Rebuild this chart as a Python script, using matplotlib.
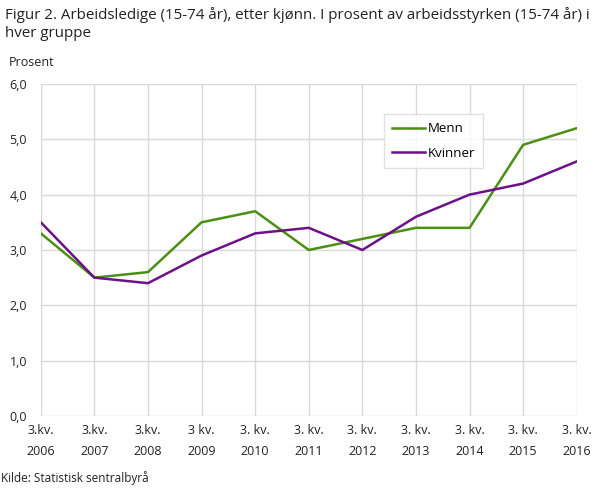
import matplotlib.pyplot as plt
from matplotlib.ticker import FuncFormatter

plt.rcParams['font.family'] = ['Open Sans', 'DejaVu Sans']

years = ['3.kv.\n2006', '3.kv.\n2007', '3.kv.\n2008', '3 kv.\n2009', '3. kv.\n2010',
         '3. kv.\n2011', '3. kv.\n2012', '3. kv.\n2013', '3. kv.\n2014', '3. kv.\n2015',
         '3. kv.\n2016']
menn = [3.3, 2.5, 2.6, 3.5, 3.7, 3.0, 3.2, 3.4, 3.4, 4.9, 5.2]
kvinner = [3.5, 2.5, 2.4, 2.9, 3.3, 3.4, 3.0, 3.6, 4.0, 4.2, 4.6]

fig = plt.figure(figsize=(6.09, 4.88), dpi=100)
ax = fig.add_axes([0.067, 0.1475, 0.88, 0.6805])

x = list(range(len(years)))
ax.plot(x, menn, color='#4b8f14', lw=1.8, label='Menn')
ax.plot(x, kvinner, color='#6c1188', lw=1.8, label='Kvinner')

ax.set_xlim(0, len(years) - 1)
ax.set_ylim(0, 6)
ax.set_yticks([0, 1, 2, 3, 4, 5, 6])
ax.yaxis.set_major_formatter(FuncFormatter(lambda v, p: f'{v:.1f}'.replace('.', ',')))
ax.set_xticks(x)
ax.set_xticklabels(years, linespacing=1.8)
ax.grid(True, color='#d9d9d9', lw=1)
ax.set_axisbelow(True)
for s in ax.spines.values():
    s.set_visible(False)
ax.tick_params(length=0, labelsize=9, colors='#222222', pad=6)
ax.tick_params(axis='y', pad=10)

leg = ax.legend(loc='upper left', bbox_to_anchor=(0.64, 0.91), frameon=True,
                fancybox=False, fontsize=9.5, handlelength=2.5, handletextpad=0.15,
                labelspacing=0.85, borderpad=0.65, borderaxespad=0)
leg.get_frame().set_edgecolor('#d9d9d9')
leg.get_frame().set_linewidth(1)
# a bit more room on the right, like the reference box
leg._legend_box.sep = 0

fig.text(0.008, 0.985, 'Figur 2. Arbeidsledige (15-74 år), etter kjønn. I prosent av arbeidsstyrken (15-74 år) i\nhver gruppe',
         fontsize=10.9, va='top', ha='left', color='#222222', linespacing=1.25)
fig.text(0.015, 0.865, 'Prosent', fontsize=9, color='#222222')
fig.text(0.002, 0.012, 'Kilde: Statistisk sentralbyrå', fontsize=8.5, color='#222222')

fig.savefig('out.png', dpi=100)
